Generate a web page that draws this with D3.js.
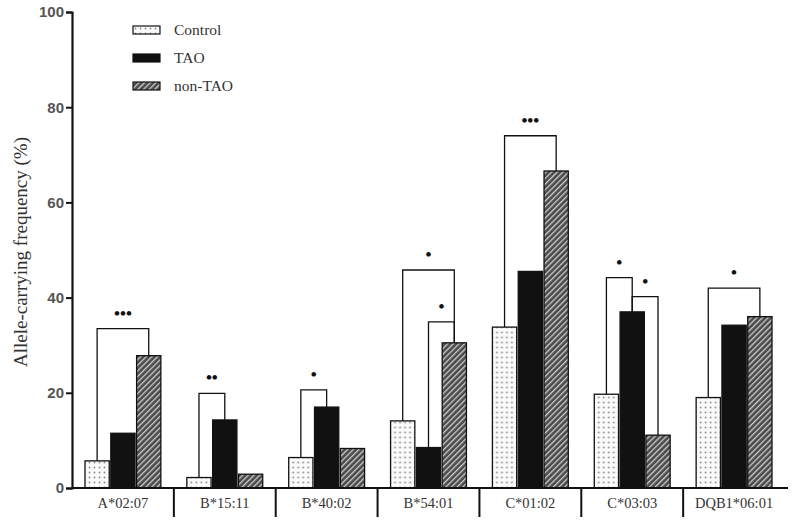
<!DOCTYPE html>
<html>
<head>
<meta charset="utf-8">
<script src="https://cdn.jsdelivr.net/npm/d3@7"></script>
<style>
  body { margin: 0; background: #fff; }
  svg { display: block; }
</style>
</head>
<body>
<div id="chart"></div>
<script>
// --- Daten ---
const categories = ["A*02:07", "B*15:11", "B*40:02", "B*54:01", "C*01:02", "C*03:03", "DQB1*06:01"];
const groups = ["Control", "TAO", "non-TAO"];
const control = [5.7, 2.2, 6.4, 14.1, 33.8, 19.7, 19.0];
const tao = [11.5, 14.3, 17.0, 8.5, 45.5, 37.0, 34.2];
const nonTao = [27.8, 2.9, 8.3, 30.5, 66.6, 11.1, 36.0];
const yTicks = [0, 20, 40, 60, 80, 100];

// Signifikanz-Klammern: Kategorie, von Gruppe, bis Gruppe, Höhe, Sterne
const brackets = [
  { cat: "A*02:07", from: 0, to: 2, y: 33.5, label: "•••" },
  { cat: "B*15:11", from: 0, to: 1, y: 19.9, label: "••" },
  { cat: "B*40:02", from: 0, to: 1, y: 20.6, label: "•" },
  { cat: "B*54:01", from: 0, to: 2, y: 45.8, label: "•" },
  { cat: "B*54:01", from: 1, to: 2, y: 34.9, label: "•" },
  { cat: "C*01:02", from: 0, to: 2, y: 74.0, label: "•••" },
  { cat: "C*03:03", from: 0, to: 1, y: 44.2, label: "•" },
  { cat: "C*03:03", from: 1, to: 2, y: 40.2, label: "•" },
  { cat: "DQB1*06:01", from: 0, to: 2, y: 42.0, label: "•" }
];

const series = [control, tao, nonTao];

const svg = d3.select("#chart")
  .append("svg")
  .attr("width", 800)
  .attr("height", 530);

// Muster für die Balken
const defs = svg.append("defs");

const dots = defs.append("pattern")
  .attr("id", "dots")
  .attr("patternUnits", "userSpaceOnUse")
  .attr("width", 5).attr("height", 5);
dots.append("rect").attr("width", 5).attr("height", 5).attr("fill", "#fafafa");
dots.append("circle").attr("cx", 2.5).attr("cy", 2.5).attr("r", 0.9).attr("fill", "#8a8a8a");

const hatch = defs.append("pattern")
  .attr("id", "hatch")
  .attr("patternUnits", "userSpaceOnUse")
  .attr("width", 4).attr("height", 4)
  .attr("patternTransform", "rotate(45)");
hatch.append("rect").attr("width", 4).attr("height", 4).attr("fill", "#4a4a4a");
hatch.append("rect").attr("x", 0).attr("width", 1.3).attr("height", 4).attr("fill", "#cfcfcf");

const fills = ["url(#dots)", "#111", "url(#hatch)"];

// Skalen
const x = d3.scaleBand()
  .domain(categories)
  .range([72, 785])
  .padding(0);

const xSub = d3.scaleBand()
  .domain(d3.range(groups.length))
  .range([13, x.bandwidth() - 13])
  .paddingInner(0.06);

const y = d3.scaleLinear()
  .domain([0, 100])
  .range([488, 12]);

// Balken
categories.forEach((c, ci) => {
  const g = svg.append("g").attr("transform", `translate(${x(c)},0)`);
  g.selectAll("rect")
    .data(series.map((s, si) => ({ si, v: s[ci] })))
    .enter()
    .append("rect")
    .attr("x", d => xSub(d.si))
    .attr("width", xSub.bandwidth())
    .attr("y", d => y(d.v))
    .attr("height", d => y(0) - y(d.v))
    .attr("fill", d => fills[d.si])
    .attr("stroke", "#111")
    .attr("stroke-width", 1.3);
});

// Klammern
const cx = (cat, gi) => x(cat) + xSub(gi) + xSub.bandwidth() / 2;
const valueOf = (cat, gi) => series[gi][categories.indexOf(cat)];

brackets.forEach(b => {
  const x1 = cx(b.cat, b.from);
  const x2 = cx(b.cat, b.to);
  const yb = y(b.y);
  svg.append("path")
    .attr("d", `M${x1},${y(valueOf(b.cat, b.from))}V${yb}H${x2}V${y(valueOf(b.cat, b.to))}`)
    .attr("fill", "none")
    .attr("stroke", "#111")
    .attr("stroke-width", 1.3);
  svg.append("text")
    .attr("x", (x1 + x2) / 2)
    .attr("y", yb - 10)
    .attr("text-anchor", "middle")
    .attr("font-family", "Liberation Serif, serif")
    .attr("font-size", 17)
    .attr("font-weight", "bold")
    .attr("fill", "#111")
    .text(b.label);
});

// Y-Achse
const yAxis = svg.append("g")
  .attr("transform", "translate(72,0)")
  .call(d3.axisLeft(y).tickValues(yTicks).tickSize(6).tickPadding(2));
yAxis.select(".domain").attr("stroke", "#111").attr("stroke-width", 2.2);
yAxis.selectAll(".tick line").attr("stroke", "#111").attr("stroke-width", 2);
yAxis.selectAll(".tick text")
  .attr("font-family", "Liberation Sans, Arial, sans-serif")
  .attr("font-size", 15)
  .attr("font-weight", "bold")
  .attr("fill", "#555");

// X-Achse
svg.append("line")
  .attr("x1", 72).attr("x2", 788)
  .attr("y1", y(0)).attr("y2", y(0))
  .attr("stroke", "#111").attr("stroke-width", 2.2);

svg.selectAll(".sep")
  .data(categories.slice(1))
  .enter()
  .append("line")
  .attr("class", "sep")
  .attr("x1", d => x(d)).attr("x2", d => x(d))
  .attr("y1", y(0)).attr("y2", y(0) + 29)
  .attr("stroke", "#111").attr("stroke-width", 2);

svg.selectAll(".xlab")
  .data(categories)
  .enter()
  .append("text")
  .attr("class", "xlab")
  .attr("x", d => x(d) + x.bandwidth() / 2)
  .attr("y", y(0) + 20)
  .attr("text-anchor", "middle")
  .attr("font-family", "Liberation Serif, serif")
  .attr("font-size", 14.5)
  .attr("fill", "#333")
  .text(d => d);

// Y-Achsentitel
svg.append("text")
  .attr("transform", "translate(27,252) rotate(-90)")
  .attr("text-anchor", "middle")
  .attr("font-family", "Liberation Serif, serif")
  .attr("font-size", 19)
  .attr("fill", "#333")
  .text("Allele-carrying frequency (%)");

// Legende
const legend = svg.append("g").attr("transform", "translate(133,26)");
groups.forEach((gname, i) => {
  const row = legend.append("g").attr("transform", `translate(0,${i * 28})`);
  row.append("rect")
    .attr("width", 27).attr("height", 8)
    .attr("fill", fills[i])
    .attr("stroke", "#111")
    .attr("stroke-width", 1.2);
  row.append("text")
    .attr("x", 41).attr("y", 9)
    .attr("font-family", "Liberation Serif, serif")
    .attr("font-size", 15.5)
    .attr("fill", "#333")
    .text(gname);
});
</script>
</body>
</html>
